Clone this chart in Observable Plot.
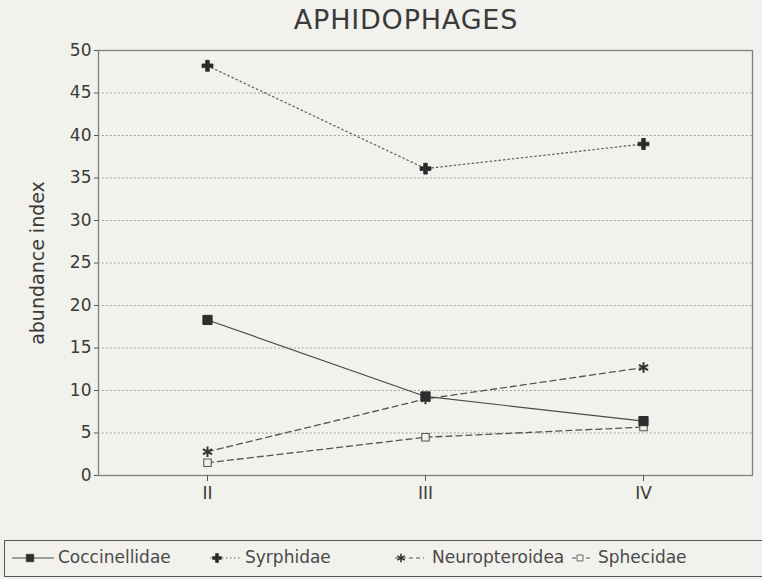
<!DOCTYPE html>
<html>
<head>
<meta charset="utf-8">
<script src="https://cdn.jsdelivr.net/npm/d3@7"></script>
<script src="https://cdn.jsdelivr.net/npm/@observablehq/plot@0.6"></script>
<style>
  html, body { margin: 0; padding: 0; background: #f2f1ed; }
  #wrap { position: relative; width: 762px; height: 579px; overflow: hidden; background: #f2f1ed; font-family: "DejaVu Sans", "Liberation Sans", sans-serif; color: #3a3a3a; }
  #title { position: absolute; left: 0; width: 812px; top: 4px; text-align: center; font-size: 27px; letter-spacing: 0.8px; color: #3a3a3a; }
  #chart { position: absolute; left: 0; top: 0; }
  #legend { position: absolute; left: 4px; top: 540px; width: 900px; height: 37px; border: 1px solid #555; box-sizing: border-box; }
  .sym { position: absolute; top: 9px; }
  .lab { position: absolute; top: 6px; font-size: 17px; line-height: 20px; color: #4a4a4a; white-space: nowrap; }
</style>
</head>
<body>
<div id="wrap">
  <div id="chart"></div>
  <div id="title">APHIDOPHAGES</div>
  <div id="legend"></div>
</div>
<script>
// ---- data ----
const periods = ["II", "III", "IV"];
const seriesNames = ["Coccinellidae", "Syrphidae", "Neuropteroidea", "Sphecidae"];
const coccinellidae = [18.3, 9.3, 6.4];
const syrphidae = [48.2, 36.1, 39.0];
const neuropteroidea = [2.8, 9.0, 12.7];
const sphecidae = [1.5, 4.5, 5.7];
const yTicks = [0, 5, 10, 15, 20, 25, 30, 35, 40, 45, 50];
const titleText = "APHIDOPHAGES";
const yLabel = "abundance index";

const valuesBySeries = {
  Coccinellidae: coccinellidae,
  Syrphidae: syrphidae,
  Neuropteroidea: neuropteroidea,
  Sphecidae: sphecidae
};
const data = seriesNames.flatMap(s => periods.map((p, i) => ({series: s, period: p, value: valuesBySeries[s][i]})));

// ---- styles ----
const bg = "#f2f1ed";
const styles = {
  Coccinellidae: {stroke: "#4a4a4a", dash: null, legendDash: null, width: 1.2, symbol: "square", fill: "#2e2e2e", dotStroke: "#2e2e2e", r: 5.2, sw: 1},
  Syrphidae: {stroke: "#666", dash: "1.5,3", legendDash: "1.5,2.5", width: 1.3, symbol: "cross", fill: "#2a2a2a", dotStroke: "#2a2a2a", r: 4.6, sw: 0.8},
  Neuropteroidea: {stroke: "#555", dash: "6,4", legendDash: "4,3", width: 1.3, symbol: "asterisk", fill: "none", dotStroke: "#333", r: 5, sw: 2},
  Sphecidae: {stroke: "#555", dash: "6,4", legendDash: "4,3", width: 1.3, symbol: "square", fill: bg, dotStroke: "#555", r: 4.2, sw: 1.1}
};

const lineMarks = seriesNames.map(s => Plot.line(data.filter(d => d.series === s), {
  x: "period", y: "value", stroke: styles[s].stroke, strokeWidth: styles[s].width,
  strokeDasharray: styles[s].dash || undefined
}));
const dotMarks = seriesNames.map(s => Plot.dot(data.filter(d => d.series === s), {
  x: "period", y: "value", symbol: () => styles[s].symbol, r: styles[s].r,
  fill: styles[s].fill, stroke: styles[s].dotStroke, strokeWidth: styles[s].sw
}));
const order = [3, 2, 1, 0];

const chart = Plot.plot({
  width: 762,
  height: 579,
  marginTop: 50,
  marginBottom: 104,
  marginLeft: 98,
  marginRight: 10,
  style: {background: "transparent", fontFamily: "DejaVu Sans, Liberation Sans, sans-serif", color: "#3a3a3a", overflow: "visible"},
  x: {type: "point", domain: periods, padding: 0.5},
  y: {domain: [0, 50]},
  symbol: {type: "identity"},
  marks: [
    Plot.gridY(yTicks.filter(t => t > 0 && t < 50), {stroke: "#8a8a8a", strokeOpacity: 1, strokeWidth: 1, strokeDasharray: "1.5,2.5"}),
    Plot.frame({stroke: "#808080", strokeWidth: 1.3}),
    Plot.axisY({ticks: yTicks, tickSize: 4, tickPadding: 3, label: null, fontSize: 17, stroke: "#555", fill: "#3a3a3a"}),
    Plot.axisY({ticks: [], label: yLabel, labelAnchor: "center", labelArrow: "none", labelOffset: 68, fontSize: 19, fill: "#3a3a3a"}),
    Plot.axisX({tickSize: 6, tickPadding: 5, label: null, fontSize: 17, stroke: "#555", fill: "#3a3a3a"}),
    ...order.map(i => lineMarks[i]),
    ...order.map(i => dotMarks[i])
  ]
});
document.getElementById("chart").appendChild(chart);
document.getElementById("title").textContent = titleText;

// ---- legend (positions relative to the page, legend box content starts at x=5) ----
const legendLayout = [
  {name: "Coccinellidae", lineFrom: 12, lineTo: 54, mark: 30, text: 58},
  {name: "Syrphidae", lineFrom: 210, lineTo: 240, mark: 217, text: 245},
  {name: "Neuropteroidea", lineFrom: 395, lineTo: 424, mark: 401, text: 432},
  {name: "Sphecidae", lineFrom: 572, lineTo: 593, mark: 580, text: 598}
];
const legend = d3.select("#legend");
const symMap = {square: d3.symbolSquare, cross: d3.symbolCross, asterisk: d3.symbolAsterisk};
legendLayout.forEach(L => {
  const st = styles[L.name];
  const x0 = L.lineFrom - 5;
  const w = L.lineTo - L.lineFrom;
  const svg = legend.append("svg").attr("class", "sym").style("left", x0 + "px").attr("width", w + 2).attr("height", 16);
  svg.append("line").attr("x1", 0).attr("x2", w).attr("y1", 8).attr("y2", 8)
    .attr("stroke", st.stroke).attr("stroke-width", 1.2).attr("stroke-dasharray", st.legendDash);
  svg.append("path").attr("transform", `translate(${L.mark - L.lineFrom},8)`)
    .attr("d", d3.symbol(symMap[st.symbol], Math.PI * (st.r * 0.8) ** 2)())
    .attr("fill", st.fill).attr("stroke", st.dotStroke).attr("stroke-width", st.sw * 0.8);
  legend.append("div").attr("class", "lab").style("left", (L.text - 5) + "px").text(L.name);
});
</script>
</body>
</html>
